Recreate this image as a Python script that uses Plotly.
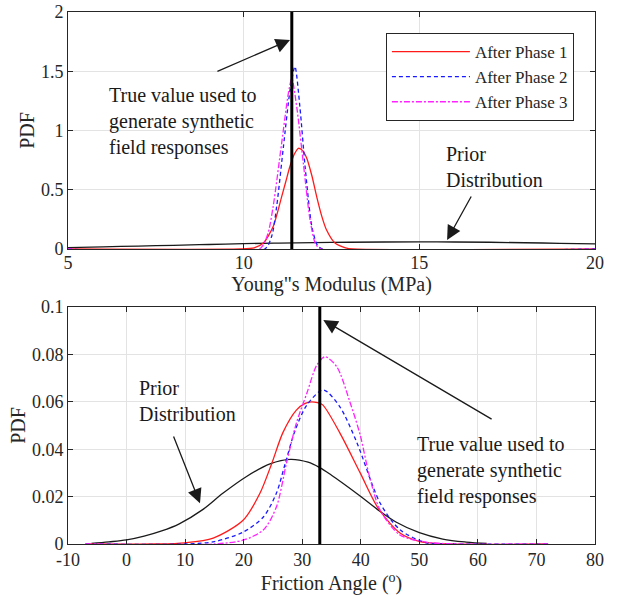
import plotly.graph_objects as go

# ---------------- data ----------------
# Top panel: Young's modulus (MPa)
E_prior_x = [5, 6, 7, 8, 9, 10, 11, 12, 13, 14, 15, 16, 17, 18, 19, 20]
E_prior_y = [0.012, 0.018, 0.025, 0.031, 0.038, 0.045, 0.050, 0.054, 0.057, 0.059,
             0.060, 0.059, 0.057, 0.053, 0.048, 0.043]

E_p1_x = [5, 9.9, 10.3, 10.56, 10.84, 11.08, 11.2, 11.32, 11.44, 11.56, 11.68, 11.79, 11.94,
          12.08, 12.22, 12.36, 12.6, 12.9, 13.1, 20]
E_p1_y = [0, 0, 0.01, 0.05, 0.19, 0.44, 0.57, 0.70, 0.80, 0.85, 0.83, 0.77, 0.62,
          0.44, 0.28, 0.16, 0.05, 0.01, 0, 0]

E_p2_x = [5, 10.6, 10.8, 10.94, 11.13, 11.32, 11.46, 11.60, 11.75, 11.94, 12.1, 12.25, 20]
E_p2_y = [0, 0, 0.11, 0.36, 0.86, 1.34, 1.54, 1.20, 0.69, 0.19, 0.03, 0, 0]

E_p3_x = [5, 10.45, 10.68, 10.84, 11.08, 11.27, 11.37, 11.51, 11.70, 11.89, 12.05, 12.2, 20]
E_p3_y = [0, 0, 0.12, 0.36, 0.89, 1.31, 1.44, 1.20, 0.72, 0.245, 0.04, 0, 0]

# Bottom panel: friction angle (deg)
F_prior_x = [-6, -3, 0, 3, 6, 9, 13, 16.5, 20.5, 24.5, 28, 31, 33, 35, 37, 40, 43, 46, 50, 54, 58, 61.5]
F_prior_y = [0.0003, 0.0009, 0.0017, 0.0033, 0.0055, 0.0085, 0.0145, 0.0215, 0.0285, 0.0338,
             0.0357, 0.0345, 0.0322, 0.029, 0.0255, 0.0200, 0.0143, 0.0093, 0.0048, 0.0021, 0.0008, 0.0002]

F_p1_x = [-7, 5, 10, 14.8, 19.9, 22.8, 24.8, 26.7, 29, 30.5, 31.6, 32.6, 33.5, 36.4, 39.9, 43, 46.7, 50.1, 55, 72]
F_p1_y = [0, 0, 0.0005, 0.0025, 0.010, 0.0215, 0.034, 0.047, 0.0565, 0.0593, 0.060, 0.0596, 0.0587, 0.047,
          0.030, 0.015, 0.0046, 0.001, 0, 0]

F_p2_x = [-7, 10, 15, 19.9, 23.4, 25.6, 27.1, 28.8, 30.8, 33.6, 36.4, 39.3, 43.3, 46.7, 51.2, 56, 72]
F_p2_y = [0, 0, 0.001, 0.005, 0.0115, 0.0215, 0.034, 0.048, 0.0587, 0.065, 0.058, 0.043,
          0.0173, 0.006, 0.0005, 0, 0]

F_p3_x = [-7, 15, 20, 23.4, 25.6, 27.3, 29, 30.8, 32.5, 33.9, 35.9, 38.2, 39.9, 41.5, 43.3, 46.7, 51.2, 56, 72]
F_p3_y = [0, 0, 0.0017, 0.006, 0.0157, 0.034, 0.051, 0.0637, 0.0755, 0.079, 0.0748, 0.0595,
          0.046, 0.0284, 0.0143, 0.0038, 0.0008, 0, 0]

true_values = [11.37, 33.0]   # [top (MPa), bottom (deg)]

phase_names = ["After Phase 1", "After Phase 2", "After Phase 3"]

# ---------------- figure ----------------
FONT = "Liberation Serif, Times New Roman, serif"
AX = "#262626"
styles = [dict(color="#ff1a1a", width=1.3, dash="solid"),
          dict(color="#1a1aff", width=1.3, dash="4px,3px"),
          dict(color="#ff22ff", width=1.3, dash="6px,2px,2px,2px")]

fig = go.Figure()

# top panel
fig.add_trace(go.Scatter(x=E_prior_x, y=E_prior_y, mode="lines", showlegend=False,
                         line=dict(color="#1a1a1a", width=1.3, shape="spline"), xaxis="x", yaxis="y"))
for name, xs, ys, st in zip(phase_names, [E_p1_x, E_p2_x, E_p3_x], [E_p1_y, E_p2_y, E_p3_y], styles):
    fig.add_trace(go.Scatter(x=xs, y=ys, mode="lines", name=name,
                             line=dict(shape="spline", smoothing=0.7, **st), xaxis="x", yaxis="y"))

# bottom panel
fig.add_trace(go.Scatter(x=F_prior_x, y=F_prior_y, mode="lines", showlegend=False,
                         line=dict(color="#1a1a1a", width=1.3, shape="spline"), xaxis="x2", yaxis="y2"))
for name, xs, ys, st in zip(phase_names, [F_p1_x, F_p2_x, F_p3_x], [F_p1_y, F_p2_y, F_p3_y], styles):
    fig.add_trace(go.Scatter(x=xs, y=ys, mode="lines", name=name, showlegend=False,
                             line=dict(shape="spline", smoothing=0.8, **st), xaxis="x2", yaxis="y2"))

# true value lines
for tv, xr, yr in zip(true_values, ["x", "x2"], ["y domain", "y2 domain"]):
    fig.add_shape(type="line", xref=xr, yref=yr, x0=tv, x1=tv, y0=0, y1=1,
                  line=dict(color="black", width=3))

common = dict(showline=True, linecolor=AX, linewidth=1, mirror="ticks", ticks="inside",
              ticklen=5, tickcolor=AX, showgrid=True, gridcolor="#e3e3e3", gridwidth=1,
              zeroline=False, automargin=False, tickfont=dict(family=FONT, size=18, color=AX))

fig.update_layout(
    width=617, height=602,
    margin=dict(l=68, r=22, t=12, b=58),
    paper_bgcolor="white", plot_bgcolor="white",
    xaxis=dict(range=[5, 20], tickvals=[5, 10, 15, 20], anchor="y", domain=[0, 1],
               ticklabelstandoff=-3,
               title=dict(text='Young"s Modulus (MPa)', font=dict(family=FONT, size=20, color=AX), standoff=2),
               **common),
    yaxis=dict(range=[0, 2], tickvals=[0, 0.5, 1, 1.5, 2], anchor="x", domain=[0.5545, 1],
               title=dict(text="PDF", font=dict(family=FONT, size=20, color=AX), standoff=0),
               **common),
    xaxis2=dict(range=[-10, 80], tickvals=list(range(-10, 81, 10)),
                ticktext=[str(v) for v in range(-10, 81, 10)], anchor="y2", domain=[0, 1],
                ticklabelstandoff=-1,
                title=dict(text="Friction Angle (<sup>o</sup>)", font=dict(family=FONT, size=20, color=AX), standoff=2),
                **common),
    yaxis2=dict(range=[0, 0.1], tickvals=[0, 0.02, 0.04, 0.06, 0.08, 0.1],
                ticktext=["0", "0.02", "0.04", "0.06", "0.08", "0.1"], anchor="x2", domain=[0, 0.4455],
                title=dict(text="PDF", font=dict(family=FONT, size=20, color=AX), standoff=0),
                **common),
    legend=dict(x=0.960, y=0.9605, xanchor="right", yanchor="top", bgcolor="white",
                bordercolor=AX, borderwidth=1, font=dict(family=FONT, size=17, color=AX),
                itemwidth=78, tracegroupgap=0),
    showlegend=True,
)

txt = dict(family=FONT, size=20, color="#1a1a1a")
annots = [
    # text blocks
    dict(x=6.11, y=1.072, xref="x", yref="y", text="True value used to<br>generate synthetic<br>field responses",
         showarrow=False, xanchor="left", yanchor="middle", align="left", font=txt),
    dict(x=15.70, y=0.692, xref="x", yref="y", text="Prior<br>Distribution",
         showarrow=False, xanchor="left", yanchor="middle", align="left", font=txt),
    dict(x=1.73, y=0.0605, xref="x2", yref="y2", text="Prior<br>Distribution",
         showarrow=False, xanchor="left", yanchor="middle", align="left", font=txt),
    dict(x=49.25, y=0.0312, xref="x2", yref="y2", text="True value used to<br>generate synthetic<br>field responses",
         showarrow=False, xanchor="left", yanchor="middle", align="left", font=txt),
]
arrows = [
    # (head_x, head_y, tail_x, tail_y, xref, yref)
    (11.32, 1.764, 9.21, 1.494, "x", "y"),
    (15.79, 0.076, 16.50, 0.456, "x", "y"),
    (12.54, 0.0172, 7.93, 0.046, "x2", "y2"),
    (33.60, 0.0945, 62.6, 0.0523, "x2", "y2"),
]
for hx, hy, tx, ty, xr, yr in arrows:
    annots.append(dict(x=hx, y=hy, ax=tx, ay=ty, xref=xr, yref=yr, axref=xr, ayref=yr,
                       text="", showarrow=True, arrowhead=2, arrowsize=2.2, arrowwidth=1.3,
                       arrowcolor="#1a1a1a", standoff=0, startstandoff=0))
fig.update_layout(annotations=annots)

fig.write_html("out.html")
